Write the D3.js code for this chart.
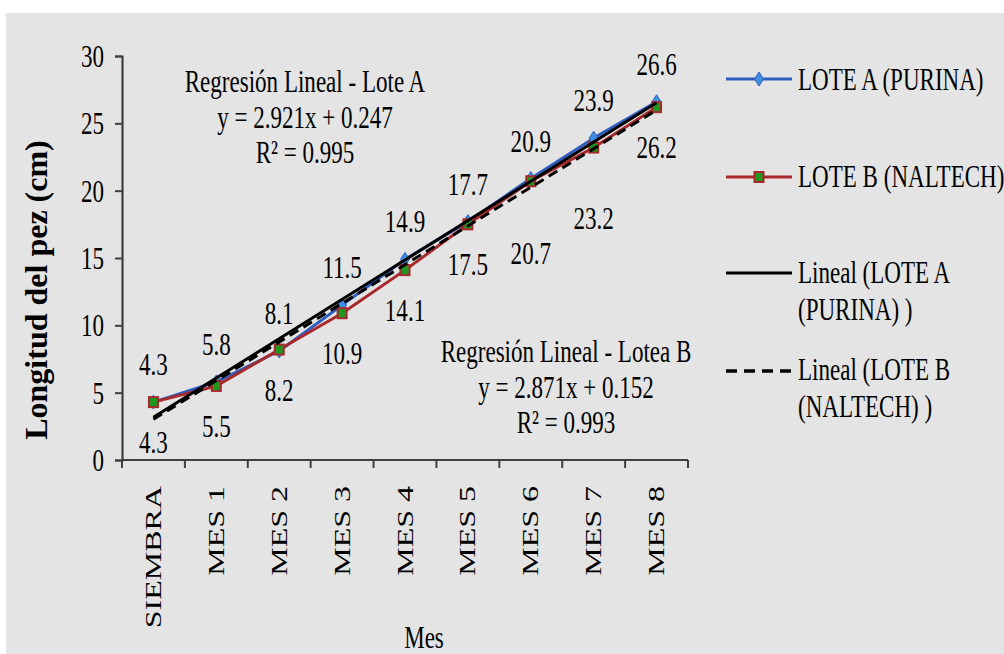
<!DOCTYPE html>
<html>
<head>
<meta charset="utf-8">
<script src="https://cdn.jsdelivr.net/npm/d3@7"></script>
<style>
  html, body { margin: 0; padding: 0; background: #ffffff; }
  svg { display: block; }
  text { font-family: "Liberation Serif", "Times New Roman", serif; fill: #000; }
</style>
</head>
<body>
<svg id="chart" width="1004" height="654"></svg>
<script>
// Fish length per month for two feed lots
const categories = ["SIEMBRA", "MES 1", "MES 2", "MES 3", "MES 4", "MES 5", "MES 6", "MES 7", "MES 8"];
const loteA = [4.3, 5.8, 8.1, 11.5, 14.9, 17.7, 20.9, 23.9, 26.6];
const loteB = [4.3, 5.5, 8.2, 10.9, 14.1, 17.5, 20.7, 23.2, 26.2];
const yTicks = [0, 5, 10, 15, 20, 25, 30];

// Linear fits (x = 1 .. n)
const fitA = { slope: 2.921, intercept: 0.247, r2: 0.995 };
const fitB = { slope: 2.871, intercept: 0.152, r2: 0.993 };

const seriesNames = ["LOTE A (PURINA)", "LOTE B (NALTECH)"];
const trendNames = [["Lineal (LOTE A", "(PURINA) )"], ["Lineal (LOTE B", "(NALTECH) )"]];

const SX = 0.72;       // horizontal condensing of serif type
const FS = 32;
const blue = "#2f5dbd", blueFill = "#3f8fe0";
const red = "#a8292b", greenFill = "#1f961f";

const svg = d3.select("#chart");

// panel background
svg.append("rect").attr("x", 6).attr("y", 13).attr("width", 998).attr("height", 641).attr("fill", "#e4e4e4");

const x = d3.scaleBand().domain(categories).range([122, 688]).padding(0);
const cx = d => x(d) + x.bandwidth() / 2;
const xi = d3.scaleLinear().domain([1, categories.length]).range([cx(categories[0]), cx(categories[categories.length - 1])]);
const y = d3.scaleLinear().domain([0, 30]).range([460, 56]);

function stext(g, px, py, str, anchor, opts = {}) {
  const t = g.append("text")
    .attr("transform", `translate(${px},${py}) scale(${SX},1)`)
    .attr("text-anchor", anchor || "middle")
    .style("font-size", (opts.size || FS) + "px")
    .text(str);
  if (opts.weight) t.style("font-weight", opts.weight);
  return t;
}

// axes
const axisColor = "#3f3f3f";
const yAxis = svg.append("g").attr("transform", "translate(122,0)")
  .call(d3.axisLeft(y).tickValues(yTicks).tickSize(7).tickFormat(""));
const xAxis = svg.append("g").attr("transform", "translate(0,460)")
  .call(d3.axisBottom(x).tickSize(0).tickFormat(""));
[yAxis, xAxis].forEach(a => {
  a.select(".domain").attr("stroke", axisColor).attr("stroke-width", 2.2);
  a.selectAll(".tick line").attr("stroke", axisColor).attr("stroke-width", 2);
});
// category boundary ticks
const bounds = categories.map(c => x(c)).concat([x(categories[categories.length - 1]) + x.bandwidth()]);
svg.append("g").selectAll("line").data(bounds).join("line")
  .attr("x1", d => d).attr("x2", d => d).attr("y1", 460).attr("y2", 468)
  .attr("stroke", axisColor).attr("stroke-width", 2);
xAxis.select(".domain").attr("d", `M122,0H688`);

// y tick labels
const gy = svg.append("g");
yTicks.forEach(t => stext(gy, 104, y(t) + 11, String(t), "end"));

// x tick labels (rotated)
const gx = svg.append("g");
categories.forEach(c => {
  gx.append("text")
    .attr("transform", `translate(${cx(c)},486) scale(${SX},1) rotate(-90)`)
    .attr("text-anchor", "end")
    .attr("dy", "0.33em")
    .style("font-size", FS + "px")
    .text(c);
});

// axis titles
svg.append("text")
  .attr("transform", "translate(36,290) rotate(-90)")
  .attr("text-anchor", "middle")
  .attr("dy", "0.33em")
  .style("font-size", "32px").style("font-weight", "bold")
  .text("Longitud del pez (cm)");
stext(svg, 424, 648, "Mes", "middle");

// series lines
const line = d3.line().x((d, i) => cx(categories[i])).y(d => y(d));
svg.append("path").datum(loteA).attr("d", line).attr("fill", "none")
  .attr("stroke", blue).attr("stroke-width", 3).attr("stroke-linejoin", "round");
const gA = svg.append("g");
loteA.forEach((v, i) => {
  const px = cx(categories[i]), py = y(v);
  gA.append("path").attr("d", `M${px},${py - 7}L${px + 4.5},${py}L${px},${py + 7}L${px - 4.5},${py}Z`)
    .attr("fill", blueFill).attr("stroke", blue).attr("stroke-width", 1);
});
svg.append("path").datum(loteB).attr("d", line).attr("fill", "none")
  .attr("stroke", red).attr("stroke-width", 3).attr("stroke-linejoin", "round");
const gB = svg.append("g");
loteB.forEach((v, i) => {
  const px = cx(categories[i]), py = y(v);
  gB.append("rect").attr("x", px - 4.5).attr("y", py - 5).attr("width", 9).attr("height", 10)
    .attr("fill", greenFill).attr("stroke", red).attr("stroke-width", 2);
});

// trend lines
const n = categories.length;
const trend = f => [[1, f.slope * 1 + f.intercept], [n, f.slope * n + f.intercept]];
const tline = d3.line().x(d => xi(d[0])).y(d => y(d[1]));
svg.append("path").attr("d", tline(trend(fitA))).attr("stroke", "#000").attr("stroke-width", 3).attr("fill", "none");
svg.append("path").attr("d", tline(trend(fitB))).attr("stroke", "#000").attr("stroke-width", 3)
  .attr("stroke-dasharray", "10,6").attr("fill", "none");

// data labels: lot A above, lot B below
const gl = svg.append("g");
const extraBelow = { 6: 32, 7: 30 };
loteA.forEach((v, i) => stext(gl, cx(categories[i]), y(v) - 27, v.toFixed(1), "middle"));
loteB.forEach((v, i) => stext(gl, cx(categories[i]), y(v) + 51 + (extraBelow[i] || 0), v.toFixed(1), "middle"));

// regression equations
const fmt3 = d3.format(".3f");
function eqBlock(cxp, top, title, f) {
  const g = svg.append("g");
  stext(g, cxp, top, title, "middle");
  stext(g, cxp, top + 35.5, `y = ${fmt3(f.slope)}x + ${fmt3(f.intercept)}`, "middle");
  stext(g, cxp, top + 71, `R² = ${fmt3(f.r2)}`, "middle");
}
eqBlock(305, 92, "Regresión Lineal - Lote A", fitA);
eqBlock(566, 362, "Regresión Lineal - Lotea B", fitB);

// legend
const lg = svg.append("g");
const lx0 = 726, lx1 = 792, lmx = 759, ltx = 798;
lg.append("line").attr("x1", lx0).attr("x2", lx1).attr("y1", 79).attr("y2", 79).attr("stroke", blue).attr("stroke-width", 3);
lg.append("path").attr("d", `M${lmx},${72}L${lmx + 4.5},79L${lmx},${86}L${lmx - 4.5},79Z`).attr("fill", blueFill).attr("stroke", blue);
stext(lg, ltx, 90, seriesNames[0], "start");

lg.append("line").attr("x1", lx0).attr("x2", lx1).attr("y1", 177).attr("y2", 177).attr("stroke", red).attr("stroke-width", 3);
lg.append("rect").attr("x", lmx - 4.5).attr("y", 172).attr("width", 9).attr("height", 10).attr("fill", greenFill).attr("stroke", red).attr("stroke-width", 2);
stext(lg, ltx, 187, seriesNames[1], "start");

lg.append("line").attr("x1", lx0).attr("x2", lx1).attr("y1", 273).attr("y2", 273).attr("stroke", "#000").attr("stroke-width", 3);
stext(lg, ltx, 283, trendNames[0][0], "start");
stext(lg, ltx, 320, trendNames[0][1], "start");

lg.append("line").attr("x1", lx0).attr("x2", lx1).attr("y1", 371).attr("y2", 371).attr("stroke", "#000").attr("stroke-width", 3.4).attr("stroke-dasharray", "11,7");
stext(lg, ltx, 380, trendNames[1][0], "start");
stext(lg, ltx, 417, trendNames[1][1], "start");
</script>
</body>
</html>
